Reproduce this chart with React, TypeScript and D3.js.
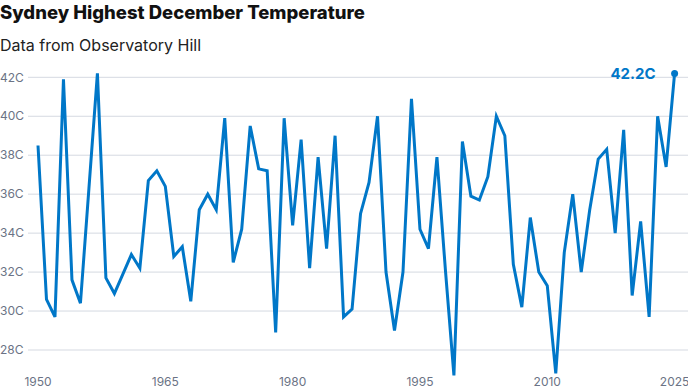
import React from 'react';
import * as d3 from 'd3';

const startYear = 1950;
const temps = [
  38.5, 30.6, 29.7, 41.9, 31.6, 30.4, 36.3, 42.2, 31.7, 30.9,
  31.9, 32.9, 32.2, 36.7, 37.2, 36.4, 32.8, 33.3, 30.5, 35.2,
  36.0, 35.2, 39.9, 32.5, 34.2, 39.5, 37.3, 37.2, 28.9, 39.9,
  34.4, 38.8, 32.2, 37.9, 33.2, 39.0, 29.7, 30.1, 35.0, 36.6,
  40.0, 32.0, 29.0, 32.0, 40.9, 34.2, 33.2, 37.9, 32.1, 26.7,
  38.7, 35.9, 35.7, 36.9, 40.0, 39.0, 32.4, 30.2, 34.8, 32.0,
  31.3, 26.8, 33.0, 36.0, 32.0, 35.2, 37.8, 38.3, 34.0, 39.3,
  30.8, 34.6, 29.7, 40.0, 37.4, 42.2,
];
const yTicks = [28, 30, 32, 34, 36, 38, 40, 42];
const xTicks = [1950, 1965, 1980, 1995, 2010, 2025];

const W = 688;
const H = 392;
const font = 'Inter, "Noto Sans", sans-serif';

export default function App() {
  const ref = React.useRef<SVGSVGElement>(null);

  React.useEffect(() => {
    const svg = d3.select(ref.current);
    svg.selectAll('*').remove();

    const data = temps.map((t, i) => ({ year: startYear + i, temp: t }));

    const x = d3.scaleLinear().domain([1950, 2025]).range([38, 674.6]);
    const y = d3.scaleLinear().domain([28, 42]).range([350, 77.3]);

    svg
      .append('text')
      .attr('x', 0)
      .attr('y', 18.5)
      .attr('font-family', font)
      .attr('font-weight', 800)
      .attr('font-size', 18.5)
      .attr('fill', '#111')
      .text('Sydney Highest December Temperature');

    svg
      .append('text')
      .attr('x', 0)
      .attr('y', 51)
      .attr('font-family', font)
      .attr('font-size', 16)
      .attr('fill', '#222')
      .text('Data from Observatory Hill');

    const grid = svg.append('g');
    yTicks.forEach((t) => {
      grid
        .append('line')
        .attr('x1', 28)
        .attr('x2', W)
        .attr('y1', y(t))
        .attr('y2', y(t))
        .attr('stroke', '#d5d9e1')
        .attr('stroke-width', 1);
      grid
        .append('text')
        .attr('x', 0)
        .attr('y', y(t))
        .attr('dy', '0.35em')
        .attr('font-family', font)
        .attr('font-size', 12)
        .attr('fill', '#6b7385')
        .text(`${t}C`);
    });

    xTicks.forEach((t) => {
      svg
        .append('text')
        .attr('x', x(t))
        .attr('y', 386)
        .attr('text-anchor', 'middle')
        .attr('font-family', font)
        .attr('font-size', 12)
        .attr('fill', '#6b7385')
        .text(t);
    });

    const line = d3
      .line<{ year: number; temp: number }>()
      .x((d) => x(d.year))
      .y((d) => y(d.temp));

    svg
      .append('path')
      .datum(data)
      .attr('d', line)
      .attr('fill', 'none')
      .attr('stroke', '#0077c8')
      .attr('stroke-width', 3)
      .attr('stroke-linejoin', 'miter');

    const last = data[data.length - 1];
    svg
      .append('circle')
      .attr('cx', x(last.year))
      .attr('cy', y(last.temp))
      .attr('r', 3.5)
      .attr('fill', '#0077c8');

    svg
      .append('text')
      .attr('x', x(last.year) - 19)
      .attr('y', y(last.temp))
      .attr('dy', '0.35em')
      .attr('text-anchor', 'end')
      .attr('font-family', font)
      .attr('font-weight', 700)
      .attr('font-size', 15)
      .attr('fill', '#0077c8')
      .text(`${last.temp.toFixed(1)}C`);
  }, []);

  return (
    <svg
      ref={ref}
      width={W}
      height={H}
      style={{ position: 'absolute', left: 0, top: 0, background: '#fff' }}
    />
  );
}
